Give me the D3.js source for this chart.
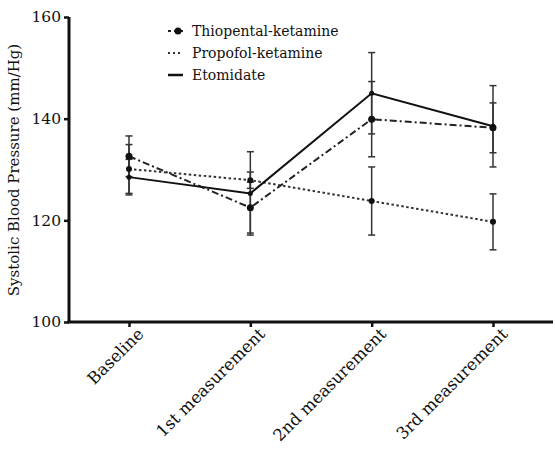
<!DOCTYPE html>
<meta charset="utf-8">
<script src="https://d3js.org/d3.v7.min.js"></script>
<style>
  body { margin: 0; background: #fff; }
  text { font-family: "DejaVu Serif", serif; fill: #111; }
</style>
<div id="chart"></div>
<script>

// categories and tick labels
var categories = ["Baseline", "1st measurement", "2nd measurement", "3rd measurement"];
var yTicks = [100, 120, 140, 160];

// series means and error bar half-widths (mm/Hg)
var thiopental = [132.6, 122.5, 139.9, 138.2];
var thiopentalErr = [4.0, 5.0, 7.4, 4.9];
var propofol = [130.1, 127.9, 123.8, 119.7];
var propofolErr = [4.8, 1.6, 6.7, 5.5];
var etomidate = [128.5, 125.3, 145.0, 138.5];
var etomidateErr = [3.5, 8.2, 8.0, 8.0];

var seriesNames = ["Thiopental-ketamine", "Propofol-ketamine", "Etomidate"];

var width = 555, height = 452;

var svg = d3.select("#chart")
  .append("svg")
    .attr("width", width)
    .attr("height", height);

var x = d3.scalePoint()
  .domain(categories)
  .range([129, 493]);

var y = d3.scaleLinear()
  .domain([100, 160])
  .range([322, 17]);

// series styles
var series = [
  { name: seriesNames[0], values: thiopental, err: thiopentalErr, dash: "7,3,2,3", color: "#222", r: 3.5 },
  { name: seriesNames[1], values: propofol, err: propofolErr, dash: "2.5,2.5", color: "#333", r: 3 },
  { name: seriesNames[2], values: etomidate, err: etomidateErr, dash: null, color: "#111", r: 2.5 }
];

// error bars (drawn first, beneath lines)
series.forEach(function(s) {
  var g = svg.append("g").attr("stroke", "#333").attr("stroke-width", 1.5);
  s.values.forEach(function(v, i) {
    var cx = x(categories[i]);
    g.append("line")
      .attr("x1", cx).attr("x2", cx)
      .attr("y1", y(v - s.err[i])).attr("y2", y(v + s.err[i]));
    g.append("line")
      .attr("x1", cx - 3.5).attr("x2", cx + 3.5)
      .attr("y1", y(v - s.err[i])).attr("y2", y(v - s.err[i]));
    g.append("line")
      .attr("x1", cx - 3.5).attr("x2", cx + 3.5)
      .attr("y1", y(v + s.err[i])).attr("y2", y(v + s.err[i]));
  });
});

var line = d3.line()
  .x(function(d, i) { return x(categories[i]); })
  .y(function(d) { return y(d); });

series.forEach(function(s) {
  svg.append("path")
    .datum(s.values)
    .attr("fill", "none")
    .attr("stroke", s.color)
    .attr("stroke-width", 2)
    .attr("stroke-dasharray", s.dash)
    .attr("d", line);

  svg.append("g")
    .selectAll("circle")
    .data(s.values)
    .enter()
    .append("circle")
      .attr("cx", function(d, i) { return x(categories[i]); })
      .attr("cy", function(d) { return y(d); })
      .attr("r", s.r)
      .attr("fill", "#111");
});

// Y axis
var yAxis = svg.append("g")
  .attr("transform", "translate(69,0)")
  .call(d3.axisLeft(y).tickValues(yTicks).tickSize(5).tickPadding(3).tickFormat(d3.format("d")));
yAxis.select(".domain").attr("stroke", "#111").attr("stroke-width", 3).attr("d", "M0,17V323");
yAxis.selectAll(".tick line").attr("stroke", "#111").attr("stroke-width", 2.5);
yAxis.selectAll(".tick text").style("font-size", "15.5px").style("font-family", "DejaVu Serif");

// X axis
var xAxis = svg.append("g")
  .attr("transform", "translate(0,322)")
  .call(d3.axisBottom(x).tickSize(5).tickPadding(3));
xAxis.select(".domain").attr("stroke", "#111").attr("stroke-width", 3).attr("d", "M67.5,0H553");
xAxis.selectAll(".tick line").attr("stroke", "#111").attr("stroke-width", 2.5);
xAxis.selectAll(".tick text")
  .style("font-size", "16.5px")
  .style("font-family", "DejaVu Serif")
  .attr("text-anchor", "end")
  .attr("transform", "translate(11,9) rotate(-45)")
  .attr("dy", "0.35em")
  .attr("y", 0)
  .attr("x", 0);

// Y axis label
svg.append("text")
  .attr("transform", "rotate(-90)")
  .attr("x", -170)
  .attr("y", 19)
  .style("text-anchor", "middle")
  .style("font-size", "15px")
  .text("Systolic Blood Pressure (mm/Hg)");

// legend
var legend = svg.append("g");
series.forEach(function(s, i) {
  var ly = 31 + i * 22;
  legend.append("line")
    .attr("x1", 168).attr("x2", 183)
    .attr("y1", ly).attr("y2", ly)
    .attr("stroke", s.color)
    .attr("stroke-width", i === 2 ? 2.5 : 2)
    .attr("stroke-dasharray", i === 0 ? "3,3" : (i === 1 ? "2,3" : null));
  if (i === 0) {
    legend.append("circle").attr("cx", 178).attr("cy", ly).attr("r", 3.5).attr("fill", "#111");
  }
  legend.append("text")
    .attr("x", 192)
    .attr("y", ly)
    .attr("dy", "0.35em")
    .style("font-size", "14px")
    .text(s.name);
});

</script>
